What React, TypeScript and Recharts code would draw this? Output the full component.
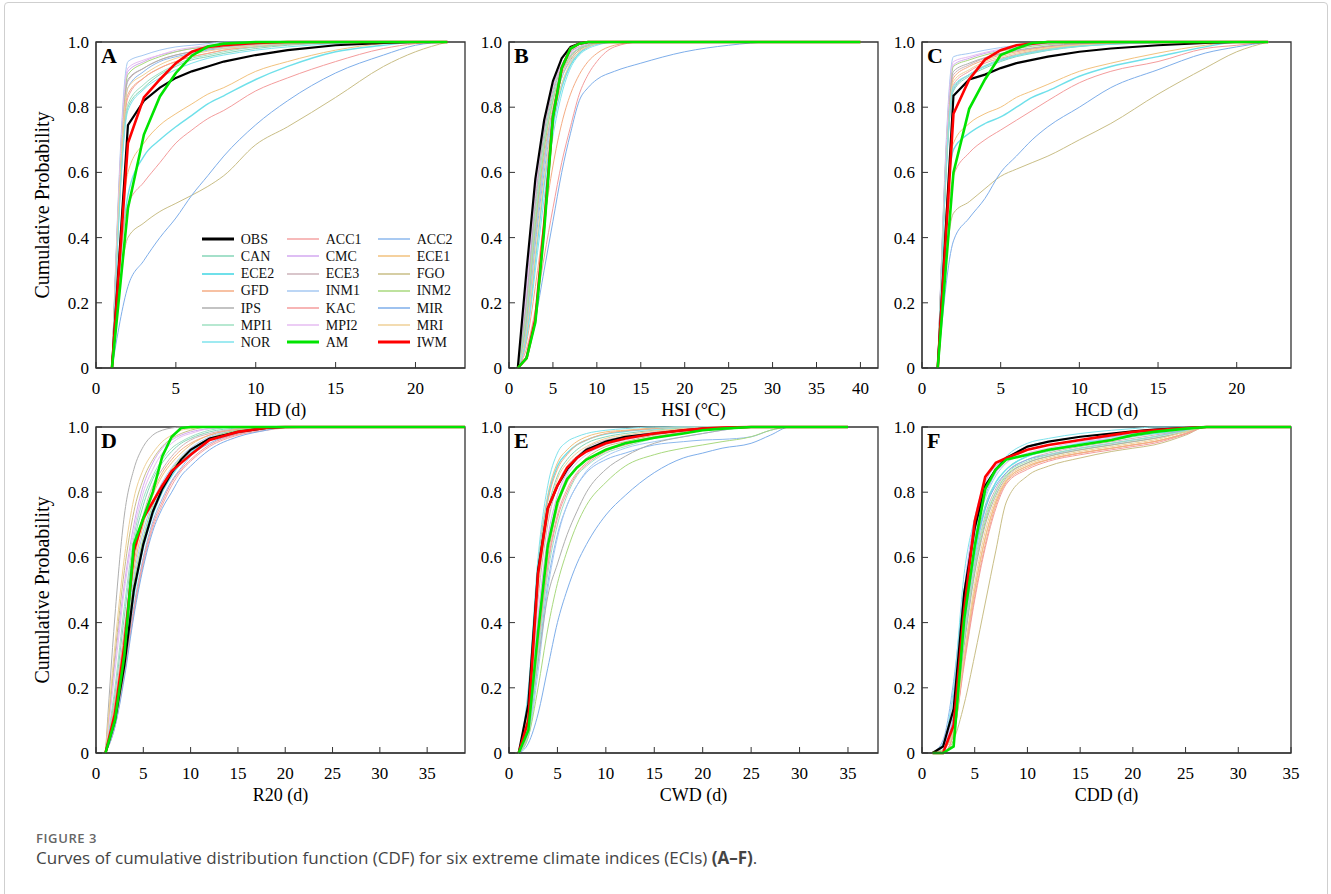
import React from 'react';
import { LineChart, Line, XAxis, YAxis, ReferenceArea, Label, Legend } from 'recharts';

const SERIF = '"Liberation Serif", "Times New Roman", serif';
const SANS = '"Open Sans", "Noto Sans", sans-serif';

// legend order (row by row, three columns)
const SERIES = [
  'OBS', 'ACC1', 'ACC2', 'CAN', 'CMC', 'ECE1', 'ECE2', 'ECE3', 'FGO', 'GFD', 'INM1',
  'INM2', 'IPS', 'KAC', 'MIR', 'MPI1', 'MPI2', 'MRI', 'NOR', 'AM', 'IWM',
];
const THICK = ['OBS', 'IWM', 'AM'];

const COLORS: Record<string, string> = {
  OBS: '#000000', ACC1: '#F4A3A3', ACC2: '#8DB9EE', CAN: '#86D6B8', CMC: '#D3A9F0',
  ECE1: '#F2C27E', ECE2: '#6FE0EA', ECE3: '#CDB3BA', FGO: '#C9BE86', GFD: '#F5AC84',
  INM1: '#A6C9F2', INM2: '#A9D97E', IPS: '#AFAFAF', KAC: '#F49C9C', MIR: '#7EAEEA',
  MPI1: '#9FE0C2', MPI2: '#E6BDF2', MRI: '#EFD197', NOR: '#7FE3EC', AM: '#00E400', IWM: '#FF0000',
};

const yTicks = [0, 0.2, 0.4, 0.6, 0.8, 1];

// A: HD (d)
const hdX = [1, 2, 3, 4, 5, 6, 7, 8, 10, 12, 15, 18, 20, 22];
const hdY: Record<string, number[]> = {
  OBS: [0, 0.745, 0.82, 0.86, 0.89, 0.91, 0.925, 0.94, 0.96, 0.975, 0.99, 0.997, 1, 1],
  ACC1: [0, 0.83, 0.89, 0.92, 0.94, 0.955, 0.965, 0.975, 0.985, 0.993, 0.998, 1, 1, 1],
  ACC2: [0, 0.86, 0.91, 0.94, 0.955, 0.965, 0.975, 0.98, 0.99, 0.995, 1, 1, 1, 1],
  CAN: [0, 0.8, 0.86, 0.9, 0.925, 0.945, 0.955, 0.965, 0.98, 0.99, 0.997, 1, 1, 1],
  CMC: [0, 0.91, 0.94, 0.96, 0.97, 0.98, 0.985, 0.99, 0.995, 1, 1, 1, 1, 1],
  ECE1: [0, 0.6, 0.69, 0.745, 0.78, 0.81, 0.84, 0.86, 0.91, 0.94, 0.975, 0.995, 1, 1],
  ECE2: [0, 0.53, 0.65, 0.7, 0.74, 0.775, 0.81, 0.835, 0.885, 0.925, 0.97, 0.99, 1, 1],
  ECE3: [0, 0.88, 0.92, 0.945, 0.96, 0.97, 0.98, 0.985, 0.993, 0.997, 1, 1, 1, 1],
  FGO: [0, 0.4, 0.445, 0.48, 0.505, 0.53, 0.557, 0.59, 0.685, 0.74, 0.83, 0.925, 0.97, 1],
  GFD: [0, 0.84, 0.89, 0.92, 0.94, 0.955, 0.965, 0.975, 0.985, 0.993, 0.998, 1, 1, 1],
  INM1: [0, 0.94, 0.96, 0.975, 0.985, 0.99, 0.995, 1, 1, 1, 1, 1, 1, 1],
  INM2: [0, 0.9, 0.935, 0.955, 0.97, 0.98, 0.985, 0.99, 0.995, 1, 1, 1, 1, 1],
  IPS: [0, 0.885, 0.92, 0.945, 0.96, 0.97, 0.978, 0.985, 0.993, 0.997, 1, 1, 1, 1],
  KAC: [0, 0.5, 0.57, 0.63, 0.69, 0.73, 0.765, 0.79, 0.85, 0.89, 0.94, 0.98, 0.995, 1],
  MIR: [0, 0.25, 0.33, 0.4, 0.46, 0.53, 0.59, 0.65, 0.746, 0.82, 0.905, 0.96, 0.99, 1],
  MPI1: [0, 0.81, 0.87, 0.905, 0.93, 0.95, 0.96, 0.97, 0.985, 0.993, 0.998, 1, 1, 1],
  MPI2: [0, 0.92, 0.945, 0.96, 0.975, 0.983, 0.99, 0.995, 1, 1, 1, 1, 1, 1],
  MRI: [0, 0.86, 0.9, 0.93, 0.95, 0.962, 0.972, 0.98, 0.99, 0.996, 1, 1, 1, 1],
  NOR: [0, 0.79, 0.855, 0.89, 0.915, 0.935, 0.95, 0.96, 0.975, 0.985, 0.995, 1, 1, 1],
  AM: [0, 0.49, 0.716, 0.833, 0.905, 0.958, 0.986, 0.995, 1, 1, 1, 1, 1, 1],
  IWM: [0, 0.69, 0.83, 0.885, 0.935, 0.97, 0.985, 0.99, 0.997, 1, 1, 1, 1, 1],
};

// B: HSI (°C)
const hsiX = [1, 2, 3, 4, 5, 6, 7, 8, 9, 10, 12, 15, 20, 25, 30, 40];
const hsiY: Record<string, number[]> = {
  OBS: [0, 0.3, 0.58, 0.76, 0.88, 0.95, 0.985, 0.995, 1, 1, 1, 1, 1, 1, 1, 1],
  ACC1: [0, 0.15, 0.42, 0.65, 0.8, 0.9, 0.95, 0.975, 0.99, 0.995, 1, 1, 1, 1, 1, 1],
  ACC2: [0, 0.12, 0.38, 0.6, 0.77, 0.87, 0.93, 0.965, 0.985, 0.993, 1, 1, 1, 1, 1, 1],
  CAN: [0, 0.2, 0.48, 0.7, 0.84, 0.92, 0.96, 0.98, 0.99, 1, 1, 1, 1, 1, 1, 1],
  CMC: [0, 0.25, 0.55, 0.74, 0.86, 0.93, 0.97, 0.985, 0.995, 1, 1, 1, 1, 1, 1, 1],
  ECE1: [0, 0.18, 0.45, 0.68, 0.82, 0.91, 0.955, 0.98, 0.99, 0.997, 1, 1, 1, 1, 1, 1],
  ECE2: [0, 0.1, 0.33, 0.56, 0.74, 0.86, 0.93, 0.965, 0.985, 0.995, 1, 1, 1, 1, 1, 1],
  ECE3: [0, 0.2, 0.5, 0.72, 0.85, 0.92, 0.96, 0.98, 0.99, 1, 1, 1, 1, 1, 1, 1],
  FGO: [0, 0.14, 0.4, 0.63, 0.79, 0.89, 0.945, 0.975, 0.99, 0.997, 1, 1, 1, 1, 1, 1],
  GFD: [0, 0.08, 0.25, 0.45, 0.62, 0.75, 0.84, 0.9, 0.94, 0.965, 0.99, 1, 1, 1, 1, 1],
  INM1: [0, 0.13, 0.4, 0.63, 0.79, 0.89, 0.94, 0.97, 0.985, 0.995, 1, 1, 1, 1, 1, 1],
  INM2: [0, 0.16, 0.44, 0.67, 0.82, 0.91, 0.955, 0.98, 0.99, 0.997, 1, 1, 1, 1, 1, 1],
  IPS: [0, 0.22, 0.52, 0.73, 0.86, 0.93, 0.97, 0.985, 0.995, 1, 1, 1, 1, 1, 1, 1],
  KAC: [0, 0.06, 0.18, 0.34, 0.49, 0.63, 0.74, 0.84, 0.9, 0.94, 0.985, 1, 1, 1, 1, 1],
  MIR: [0, 0.04, 0.15, 0.3, 0.45, 0.6, 0.72, 0.82, 0.86, 0.885, 0.91, 0.935, 0.97, 0.99, 1, 1],
  MPI1: [0, 0.17, 0.46, 0.69, 0.83, 0.91, 0.955, 0.98, 0.99, 0.997, 1, 1, 1, 1, 1, 1],
  MPI2: [0, 0.24, 0.54, 0.74, 0.86, 0.93, 0.965, 0.985, 0.995, 1, 1, 1, 1, 1, 1, 1],
  MRI: [0, 0.11, 0.35, 0.58, 0.76, 0.87, 0.935, 0.97, 0.985, 0.995, 1, 1, 1, 1, 1, 1],
  NOR: [0, 0.09, 0.3, 0.52, 0.71, 0.84, 0.92, 0.96, 0.98, 0.99, 1, 1, 1, 1, 1, 1],
  AM: [0, 0.03, 0.14, 0.42, 0.77, 0.92, 0.98, 0.995, 1, 1, 1, 1, 1, 1, 1, 1],
  IWM: [0, 0.03, 0.15, 0.44, 0.77, 0.92, 0.98, 0.995, 1, 1, 1, 1, 1, 1, 1, 1],
};

// C: HCD (d)
const hcdX = [1, 2, 3, 4, 5, 6, 7, 8, 10, 12, 15, 18, 20, 22];
const hcdY: Record<string, number[]> = {
  OBS: [0, 0.835, 0.885, 0.9, 0.92, 0.935, 0.945, 0.955, 0.97, 0.98, 0.99, 0.997, 1, 1],
  ACC1: [0, 0.87, 0.91, 0.935, 0.95, 0.962, 0.972, 0.98, 0.99, 0.995, 1, 1, 1, 1],
  ACC2: [0, 0.855, 0.9, 0.925, 0.945, 0.958, 0.968, 0.976, 0.988, 0.994, 0.999, 1, 1, 1],
  CAN: [0, 0.85, 0.895, 0.92, 0.94, 0.955, 0.965, 0.974, 0.986, 0.993, 0.998, 1, 1, 1],
  CMC: [0, 0.93, 0.95, 0.965, 0.975, 0.983, 0.99, 0.995, 1, 1, 1, 1, 1, 1],
  ECE1: [0, 0.69, 0.75, 0.78, 0.8, 0.83, 0.85, 0.87, 0.91, 0.935, 0.966, 0.99, 1, 1],
  ECE2: [0, 0.67, 0.72, 0.75, 0.77, 0.8, 0.83, 0.85, 0.895, 0.925, 0.955, 0.985, 1, 1],
  ECE3: [0, 0.9, 0.93, 0.95, 0.963, 0.973, 0.98, 0.986, 0.993, 0.997, 1, 1, 1, 1],
  FGO: [0, 0.475, 0.51, 0.55, 0.588, 0.61, 0.63, 0.65, 0.7, 0.75, 0.84, 0.92, 0.97, 1],
  GFD: [0, 0.89, 0.925, 0.945, 0.96, 0.97, 0.978, 0.985, 0.993, 0.997, 1, 1, 1, 1],
  INM1: [0, 0.955, 0.965, 0.975, 0.983, 0.99, 0.995, 1, 1, 1, 1, 1, 1, 1],
  INM2: [0, 0.925, 0.945, 0.96, 0.972, 0.98, 0.987, 0.992, 0.997, 1, 1, 1, 1, 1],
  IPS: [0, 0.91, 0.935, 0.952, 0.965, 0.975, 0.982, 0.988, 0.995, 0.998, 1, 1, 1, 1],
  KAC: [0, 0.59, 0.66, 0.7, 0.73, 0.76, 0.79, 0.82, 0.875, 0.91, 0.94, 0.98, 0.99, 1],
  MIR: [0, 0.39, 0.46, 0.52, 0.6, 0.65, 0.7, 0.74, 0.8, 0.86, 0.915, 0.966, 0.985, 1],
  MPI1: [0, 0.86, 0.9, 0.928, 0.947, 0.96, 0.97, 0.978, 0.99, 0.995, 1, 1, 1, 1],
  MPI2: [0, 0.94, 0.955, 0.968, 0.978, 0.986, 0.992, 0.996, 1, 1, 1, 1, 1, 1],
  MRI: [0, 0.88, 0.915, 0.94, 0.955, 0.966, 0.975, 0.982, 0.991, 0.996, 1, 1, 1, 1],
  NOR: [0, 0.865, 0.9, 0.925, 0.943, 0.957, 0.967, 0.975, 0.987, 0.993, 0.998, 1, 1, 1],
  AM: [0, 0.6, 0.795, 0.885, 0.96, 0.98, 0.997, 1, 1, 1, 1, 1, 1, 1],
  IWM: [0, 0.78, 0.885, 0.946, 0.975, 0.99, 0.995, 1, 1, 1, 1, 1, 1, 1],
};

// D: R20 (d)
const r20X = [1, 2, 3, 4, 5, 6, 7, 8, 9, 10, 12, 15, 18, 20, 25, 30, 39];
const r20Y: Record<string, number[]> = {
  OBS: [0, 0.1, 0.27, 0.5, 0.64, 0.74, 0.81, 0.86, 0.9, 0.93, 0.965, 0.985, 0.997, 1, 1, 1, 1],
  ACC1: [0, 0.08, 0.24, 0.43, 0.58, 0.69, 0.76, 0.82, 0.865, 0.895, 0.94, 0.975, 0.99, 0.997, 1, 1, 1],
  ACC2: [0, 0.09, 0.26, 0.45, 0.6, 0.71, 0.78, 0.835, 0.875, 0.91, 0.95, 0.98, 0.995, 1, 1, 1, 1],
  CAN: [0, 0.18, 0.42, 0.64, 0.76, 0.84, 0.89, 0.925, 0.95, 0.965, 0.985, 0.997, 1, 1, 1, 1, 1],
  CMC: [0, 0.28, 0.52, 0.7, 0.82, 0.89, 0.935, 0.96, 0.975, 0.985, 0.995, 1, 1, 1, 1, 1, 1],
  ECE1: [0, 0.14, 0.35, 0.56, 0.7, 0.79, 0.85, 0.89, 0.92, 0.945, 0.975, 0.993, 1, 1, 1, 1, 1],
  ECE2: [0, 0.1, 0.28, 0.48, 0.63, 0.73, 0.8, 0.85, 0.89, 0.92, 0.96, 0.985, 0.997, 1, 1, 1, 1],
  ECE3: [0, 0.16, 0.38, 0.6, 0.73, 0.82, 0.87, 0.91, 0.94, 0.96, 0.98, 0.995, 1, 1, 1, 1, 1],
  FGO: [0, 0.3, 0.56, 0.74, 0.84, 0.9, 0.94, 0.965, 0.98, 0.99, 1, 1, 1, 1, 1, 1, 1],
  GFD: [0, 0.15, 0.36, 0.58, 0.72, 0.8, 0.86, 0.9, 0.93, 0.95, 0.975, 0.993, 1, 1, 1, 1, 1],
  INM1: [0, 0.13, 0.33, 0.54, 0.68, 0.77, 0.83, 0.875, 0.91, 0.935, 0.97, 0.99, 1, 1, 1, 1, 1],
  INM2: [0, 0.12, 0.31, 0.52, 0.66, 0.76, 0.82, 0.87, 0.905, 0.93, 0.965, 0.99, 0.998, 1, 1, 1, 1],
  IPS: [0, 0.42, 0.73, 0.87, 0.94, 0.975, 0.99, 0.997, 1, 1, 1, 1, 1, 1, 1, 1, 1],
  KAC: [0, 0.09, 0.25, 0.44, 0.59, 0.7, 0.77, 0.83, 0.87, 0.9, 0.945, 0.978, 0.993, 1, 1, 1, 1],
  MIR: [0, 0.08, 0.23, 0.42, 0.57, 0.68, 0.75, 0.8, 0.85, 0.88, 0.93, 0.97, 0.99, 1, 1, 1, 1],
  MPI1: [0, 0.2, 0.45, 0.66, 0.78, 0.85, 0.9, 0.935, 0.955, 0.97, 0.99, 1, 1, 1, 1, 1, 1],
  MPI2: [0, 0.25, 0.5, 0.68, 0.8, 0.87, 0.92, 0.95, 0.97, 0.98, 0.995, 1, 1, 1, 1, 1, 1],
  MRI: [0, 0.33, 0.6, 0.78, 0.87, 0.92, 0.955, 0.975, 0.99, 0.995, 1, 1, 1, 1, 1, 1, 1],
  NOR: [0, 0.11, 0.3, 0.5, 0.65, 0.75, 0.81, 0.86, 0.9, 0.925, 0.96, 0.985, 0.997, 1, 1, 1, 1],
  AM: [0, 0.1, 0.3, 0.64, 0.72, 0.8, 0.91, 0.97, 0.997, 1, 1, 1, 1, 1, 1, 1, 1],
  IWM: [0, 0.12, 0.33, 0.62, 0.72, 0.77, 0.82, 0.865, 0.89, 0.915, 0.96, 0.985, 0.998, 1, 1, 1, 1],
};

// E: CWD (d)
const cwdX = [1, 2, 3, 4, 5, 6, 7, 8, 10, 12, 15, 18, 20, 22, 25, 27, 29, 35];
const cwdY: Record<string, number[]> = {
  OBS: [0, 0.15, 0.56, 0.75, 0.82, 0.87, 0.905, 0.93, 0.955, 0.97, 0.98, 0.99, 0.995, 0.997, 1, 1, 1, 1],
  ACC1: [0, 0.08, 0.33, 0.58, 0.73, 0.81, 0.86, 0.89, 0.93, 0.95, 0.97, 0.985, 0.993, 0.997, 1, 1, 1, 1],
  ACC2: [0, 0.06, 0.28, 0.52, 0.67, 0.76, 0.82, 0.86, 0.9, 0.92, 0.945, 0.955, 0.96, 0.962, 0.97, 0.99, 1, 1],
  CAN: [0, 0.15, 0.52, 0.74, 0.85, 0.9, 0.93, 0.95, 0.97, 0.98, 0.99, 0.997, 1, 1, 1, 1, 1, 1],
  CMC: [0, 0.1, 0.42, 0.66, 0.79, 0.86, 0.9, 0.925, 0.95, 0.965, 0.98, 0.99, 0.997, 1, 1, 1, 1, 1],
  ECE1: [0, 0.18, 0.58, 0.79, 0.89, 0.93, 0.955, 0.97, 0.985, 0.99, 0.997, 1, 1, 1, 1, 1, 1, 1],
  ECE2: [0, 0.17, 0.56, 0.78, 0.88, 0.92, 0.945, 0.96, 0.978, 0.986, 0.994, 1, 1, 1, 1, 1, 1, 1],
  ECE3: [0, 0.12, 0.47, 0.7, 0.82, 0.88, 0.91, 0.935, 0.96, 0.97, 0.985, 0.994, 1, 1, 1, 1, 1, 1],
  FGO: [0, 0.08, 0.35, 0.6, 0.75, 0.83, 0.875, 0.905, 0.94, 0.955, 0.975, 0.988, 0.995, 1, 1, 1, 1, 1],
  GFD: [0, 0.16, 0.55, 0.77, 0.87, 0.915, 0.945, 0.96, 0.98, 0.988, 0.995, 1, 1, 1, 1, 1, 1, 1],
  INM1: [0, 0.05, 0.25, 0.5, 0.66, 0.76, 0.82, 0.865, 0.91, 0.935, 0.955, 0.97, 0.98, 0.99, 1, 1, 1, 1],
  INM2: [0, 0.05, 0.2, 0.38, 0.52, 0.62, 0.7, 0.76, 0.83, 0.88, 0.915, 0.935, 0.945, 0.955, 0.97, 0.99, 1, 1],
  IPS: [0, 0.08, 0.28, 0.48, 0.58, 0.67, 0.74, 0.8, 0.87, 0.91, 0.95, 0.97, 0.98, 0.99, 1, 1, 1, 1],
  KAC: [0, 0.07, 0.32, 0.57, 0.72, 0.8, 0.855, 0.885, 0.925, 0.945, 0.968, 0.984, 0.992, 0.997, 1, 1, 1, 1],
  MIR: [0, 0.03, 0.12, 0.26, 0.4, 0.5, 0.58, 0.64, 0.73, 0.79, 0.86, 0.905, 0.92, 0.935, 0.95, 0.975, 1, 1],
  MPI1: [0, 0.06, 0.3, 0.55, 0.7, 0.79, 0.85, 0.88, 0.92, 0.94, 0.965, 0.982, 0.99, 0.995, 1, 1, 1, 1],
  MPI2: [0, 0.09, 0.4, 0.64, 0.77, 0.85, 0.89, 0.915, 0.945, 0.96, 0.978, 0.99, 0.996, 1, 1, 1, 1, 1],
  MRI: [0, 0.14, 0.5, 0.72, 0.84, 0.89, 0.92, 0.94, 0.965, 0.975, 0.988, 0.995, 1, 1, 1, 1, 1, 1],
  NOR: [0, 0.2, 0.6, 0.82, 0.92, 0.955, 0.97, 0.98, 0.99, 0.995, 1, 1, 1, 1, 1, 1, 1, 1],
  AM: [0, 0.07, 0.37, 0.635, 0.77, 0.84, 0.875, 0.9, 0.93, 0.95, 0.967, 0.98, 0.99, 0.995, 1, 1, 1, 1],
  IWM: [0, 0.1, 0.55, 0.75, 0.82, 0.875, 0.905, 0.925, 0.95, 0.965, 0.98, 0.99, 0.995, 0.998, 1, 1, 1, 1],
};

// F: CDD (d)
const cddX = [1, 2, 3, 4, 5, 6, 7, 8, 10, 12, 15, 18, 20, 22, 25, 27, 35];
const cddY: Record<string, number[]> = {
  OBS: [0, 0.02, 0.135, 0.49, 0.69, 0.82, 0.87, 0.905, 0.94, 0.955, 0.97, 0.98, 0.987, 0.992, 0.997, 1, 1],
  ACC1: [0, 0, 0.06, 0.29, 0.5, 0.66, 0.77, 0.835, 0.88, 0.9, 0.92, 0.935, 0.945, 0.955, 0.98, 1, 1],
  ACC2: [0, 0.04, 0.22, 0.5, 0.68, 0.79, 0.86, 0.9, 0.94, 0.955, 0.97, 0.98, 0.985, 0.99, 0.995, 1, 1],
  CAN: [0, 0.01, 0.1, 0.4, 0.62, 0.76, 0.83, 0.87, 0.91, 0.925, 0.945, 0.96, 0.97, 0.98, 0.995, 1, 1],
  CMC: [0, 0.02, 0.15, 0.5, 0.72, 0.83, 0.88, 0.9, 0.93, 0.945, 0.96, 0.97, 0.98, 0.985, 0.995, 1, 1],
  ECE1: [0, 0.01, 0.07, 0.3, 0.5, 0.66, 0.77, 0.835, 0.88, 0.9, 0.92, 0.935, 0.945, 0.955, 0.98, 1, 1],
  ECE2: [0, 0.01, 0.1, 0.38, 0.6, 0.75, 0.83, 0.87, 0.91, 0.93, 0.95, 0.965, 0.975, 0.98, 0.99, 1, 1],
  ECE3: [0, 0.01, 0.09, 0.36, 0.58, 0.73, 0.81, 0.86, 0.9, 0.92, 0.94, 0.955, 0.965, 0.975, 0.99, 1, 1],
  FGO: [0, 0, 0.04, 0.15, 0.3, 0.46, 0.62, 0.77, 0.85, 0.88, 0.905, 0.925, 0.935, 0.945, 0.975, 1, 1],
  GFD: [0, 0, 0.06, 0.28, 0.48, 0.64, 0.76, 0.83, 0.875, 0.9, 0.92, 0.935, 0.945, 0.955, 0.98, 1, 1],
  INM1: [0, 0.03, 0.18, 0.47, 0.66, 0.78, 0.85, 0.89, 0.93, 0.945, 0.96, 0.97, 0.98, 0.985, 0.995, 1, 1],
  INM2: [0, 0.01, 0.08, 0.34, 0.56, 0.71, 0.8, 0.85, 0.89, 0.91, 0.93, 0.945, 0.955, 0.965, 0.985, 1, 1],
  IPS: [0, 0.01, 0.08, 0.33, 0.55, 0.7, 0.79, 0.845, 0.89, 0.91, 0.93, 0.945, 0.955, 0.965, 0.985, 1, 1],
  KAC: [0, 0, 0.06, 0.27, 0.47, 0.63, 0.75, 0.825, 0.87, 0.895, 0.915, 0.93, 0.94, 0.95, 0.978, 1, 1],
  MIR: [0, 0.02, 0.12, 0.42, 0.62, 0.75, 0.82, 0.86, 0.9, 0.915, 0.935, 0.95, 0.96, 0.97, 0.99, 1, 1],
  MPI1: [0, 0.01, 0.09, 0.35, 0.57, 0.72, 0.8, 0.855, 0.895, 0.915, 0.935, 0.95, 0.96, 0.97, 0.988, 1, 1],
  MPI2: [0, 0.02, 0.14, 0.46, 0.69, 0.8, 0.86, 0.89, 0.92, 0.935, 0.955, 0.965, 0.975, 0.985, 0.995, 1, 1],
  MRI: [0, 0.01, 0.07, 0.3, 0.52, 0.68, 0.78, 0.84, 0.885, 0.905, 0.925, 0.94, 0.95, 0.96, 0.985, 1, 1],
  NOR: [0, 0.03, 0.2, 0.55, 0.72, 0.81, 0.87, 0.91, 0.95, 0.965, 0.98, 0.99, 0.995, 1, 1, 1, 1],
  AM: [0, 0, 0.02, 0.41, 0.635, 0.81, 0.87, 0.9, 0.915, 0.93, 0.945, 0.96, 0.975, 0.985, 0.995, 1, 1],
  IWM: [0, 0, 0.085, 0.44, 0.71, 0.847, 0.89, 0.905, 0.93, 0.945, 0.96, 0.975, 0.985, 0.99, 0.997, 1, 1],
};

const PLOT_W = 369;
const PLOT_H = 326;

const LegendGrid = () => (
  <div style={{ position: 'relative', width: 270, height: 122 }}>
    {SERIES.map((s, i) => {
      const col = i % 3;
      const row = Math.floor(i / 3);
      const thick = THICK.includes(s);
      return (
        <div
          key={s}
          style={{
            position: 'absolute',
            left: [0, 85, 176][col],
            top: row * 17.2,
            height: 17.2,
            display: 'flex',
            alignItems: 'center',
            whiteSpace: 'nowrap',
          }}
        >
          <svg width={32} height={6}>
            <line x1={0} y1={3} x2={32} y2={3} stroke={COLORS[s]} strokeWidth={thick ? 3 : s === 'ECE2' ? 2 : 1.5} />
          </svg>
          <span style={{ marginLeft: 7, fontFamily: SERIF, fontSize: 14, color: '#111', lineHeight: '17px' }}>{s}</span>
        </div>
      );
    })}
  </div>
);

type PanelProps = {
  letter: string;
  xs: number[];
  ys: Record<string, number[]>;
  xMax: number;
  xTicks: number[];
  xLabel: string;
  left: number;
  top: number;
  yLabel?: boolean;
  legend?: boolean;
};

const Panel = ({ letter, xs, ys, xMax, xTicks, xLabel, left, top, yLabel, legend }: PanelProps) => {
  const data = xs.map((x, i) => {
    const row: Record<string, number> = { x };
    SERIES.forEach((s) => {
      row[s] = ys[s][i];
    });
    return row;
  });
  const thin = SERIES.filter((s) => !THICK.includes(s));

  return (
    <div style={{ position: 'absolute', left: left - 70, top: top - 20 }}>
      <LineChart width={PLOT_W + 80} height={PLOT_H + 80} data={data} margin={{ top: 20, right: 10, bottom: 0, left: 0 }}>
        <XAxis
          dataKey="x"
          type="number"
          domain={[0, xMax]}
          ticks={xTicks}
          allowDataOverflow
          height={60}
          tickSize={-6}
          tickMargin={20}
          stroke="#333"
          tick={{ fontSize: 17, fontFamily: SERIF, fill: '#000' }}
        >
          <Label value={xLabel} position="insideBottom" offset={12} style={{ fontSize: 18, fontFamily: SERIF, fill: '#000' }} />
        </XAxis>
        <YAxis
          type="number"
          domain={[0, 1]}
          ticks={yTicks}
          width={70}
          tickSize={-6}
          tickMargin={13}
          stroke="#333"
          tickFormatter={(v: number) => (v === 0 ? '0' : v.toFixed(1))}
          tick={{ fontSize: 17, fontFamily: SERIF, fill: '#000' }}
        >
          {yLabel && (
            <Label
              value="Cumulative Probability"
              angle={-90}
              position="insideLeft"
              offset={16}
              style={{ textAnchor: 'middle', fontSize: 20, fontFamily: SERIF, fill: '#000' }}
            />
          )}
        </YAxis>
        <ReferenceArea x1={0} x2={xMax} y1={0} y2={1} fill="none" stroke="#333" strokeWidth={1.3} ifOverflow="visible">
          <Label value={letter} position="insideTopLeft" offset={5} style={{ fontSize: 22, fontWeight: 'bold', fontFamily: SERIF, fill: '#000' }} />
        </ReferenceArea>
        {thin.map((s) => (
          <Line
            key={s}
            dataKey={s}
            type="monotone"
            stroke={COLORS[s]}
            strokeWidth={s === 'ECE2' ? 1.4 : 1}
            dot={false}
            isAnimationActive={false}
          />
        ))}
        {THICK.map((s) => (
          <Line
            key={s}
            dataKey={s}
            type="linear"
            stroke={COLORS[s]}
            strokeWidth={s === 'OBS' ? 2.2 : 2.6}
            dot={false}
            isAnimationActive={false}
          />
        ))}
        {legend && (
          <Legend
            layout="horizontal"
            verticalAlign="middle"
            align="center"
            wrapperStyle={{ left: 175.7, top: 208.7, width: 270, height: 122 }}
            content={() => <LegendGrid />}
          />
        )}
      </LineChart>
    </div>
  );
};

const App = () => (
  <div style={{ position: 'absolute', left: 0, top: 0, width: 1331, height: 894, background: '#fff', overflow: 'hidden' }}>
    <div style={{ position: 'absolute', left: 4, top: 2, width: 1322, height: 910, border: '1px solid #cfcfcf', borderRadius: 4 }} />
    <Panel letter="A" xs={hdX} ys={hdY} xMax={23.1} xTicks={[0, 5, 10, 15, 20]} xLabel="HD (d)" left={96} top={42} yLabel legend />
    <Panel letter="B" xs={hsiX} ys={hsiY} xMax={42} xTicks={[0, 5, 10, 15, 20, 25, 30, 35, 40]} xLabel="HSI (°C)" left={509} top={42} />
    <Panel letter="C" xs={hcdX} ys={hcdY} xMax={23.45} xTicks={[0, 5, 10, 15, 20]} xLabel="HCD (d)" left={922} top={42} />
    <Panel letter="D" xs={r20X} ys={r20Y} xMax={39} xTicks={[0, 5, 10, 15, 20, 25, 30, 35]} xLabel="R20 (d)" left={96} top={427} yLabel />
    <Panel letter="E" xs={cwdX} ys={cwdY} xMax={38.1} xTicks={[0, 5, 10, 15, 20, 25, 30, 35]} xLabel="CWD (d)" left={509} top={427} />
    <Panel letter="F" xs={cddX} ys={cddY} xMax={35} xTicks={[0, 5, 10, 15, 20, 25, 30, 35]} xLabel="CDD (d)" left={922} top={427} />
    <div style={{ position: 'absolute', left: 36, top: 829, fontFamily: SANS, fontSize: 13, fontWeight: 600, color: '#666', letterSpacing: 0.6 }}>
      FIGURE 3
    </div>
    <div style={{ position: 'absolute', left: 36, top: 846, fontFamily: SANS, fontSize: 17, color: '#444' }}>
      Curves of cumulative distribution function (CDF) for six extreme climate indices (ECIs) <b>(A–F)</b>.
    </div>
  </div>
);

export default App;
